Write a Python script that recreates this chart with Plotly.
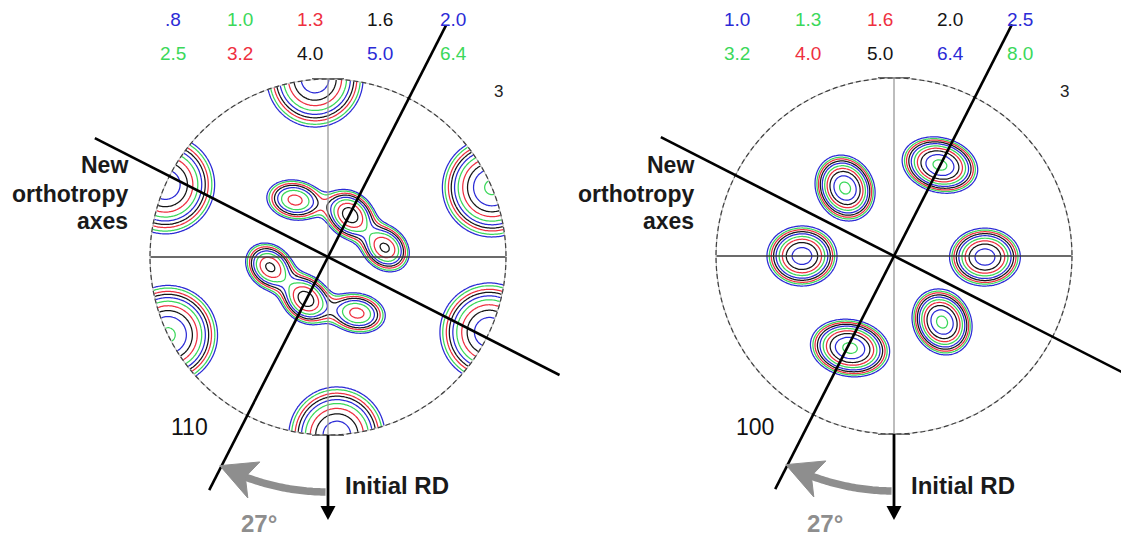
import numpy as np
import plotly.graph_objects as go

W, H = 1121, 539
R_PX = 178.0                      # pole-figure radius in pixels
FONT = "Liberation Sans, Arial, Helvetica, sans-serif"

# ---- contour levels (multiples of random) -------------------------------
LEVELS_110 = [0.8, 1.0, 1.3, 1.6, 2.0, 2.5, 3.2, 4.0, 5.0, 6.4]
LABELS_110 = [".8", "1.0", "1.3", "1.6", "2.0", "2.5", "3.2", "4.0", "5.0", "6.4"]
LEVELS_100 = [1.0, 1.3, 1.6, 2.0, 2.5, 3.2, 4.0, 5.0, 6.4, 8.0]
LABELS_100 = ["1.0", "1.3", "1.6", "2.0", "2.5", "3.2", "4.0", "5.0", "6.4", "8.0"]

BLUE, GREEN, RED, BLACK = "#2b2bd6", "#3bd85a", "#ee3040", "#151515"
LEVEL_COLORS = [BLUE, GREEN, RED, BLACK, BLUE, GREEN, RED, BLACK, BLUE, GREEN]

# ---- texture components of the {110} pole figure (unit-disc coords) -----
PK110_X = [-0.073, 0.050, -0.914, 0.921, -0.899, 0.906, -0.185, 0.124, 0.320, 0.163, -0.124, -0.326]
PK110_Y = [1.000, -1.000, 0.407, 0.391, -0.438, -0.423, 0.320, 0.236, 0.051, -0.315, -0.236, -0.056]
PK110_H = [5.9, 5.9, 6.0, 6.7, 6.7, 6.0, 3.5, 4.6, 4.2, 3.5, 4.6, 4.2]
PK110_SA = [0.135, 0.135, 0.138, 0.135, 0.135, 0.138, 0.093, 0.085, 0.082, 0.093, 0.085, 0.082]
PK110_SB = [0.135, 0.135, 0.138, 0.135, 0.135, 0.138, 0.065, 0.068, 0.066, 0.065, 0.068, 0.066]
PK110_ANG = [0, 0, 0, 0, 0, 0, -10, -43, -43, -10, -43, -43]

# ---- texture components of the {100} pole figure ------------------------
PK100_X = [-0.275, 0.258, -0.517, 0.511, 0.270, -0.247]
PK100_Y = [0.382, 0.511, 0.000, -0.006, -0.371, -0.517]
PK100_H = [8.6, 8.6, 7.5, 7.5, 8.6, 8.6]
PK100_SA = [0.092, 0.104, 0.098, 0.099, 0.092, 0.108]
PK100_SB = [0.078, 0.074, 0.084, 0.081, 0.078, 0.077]
PK100_ANG = [-62, -15, 0, 0, -62, -10]

ROT_DEG = 27.0                    # rotation of the new orthotropy axes

# panel centres in pixels and the pixel span each panel occupies
PANELS = [
    dict(cx=328, cy=257, x0=0, x1=560, xa="x", ya="y", name="110",
         levels=LEVELS_110, labels=LABELS_110,
         pk=(PK110_X, PK110_Y, PK110_H, PK110_SA, PK110_SB, PK110_ANG),
         leg_x=[173, 240, 310, 380, 453]),
    dict(cx=894, cy=256, x0=560, x1=W, xa="x2", ya="y2", name="100",
         levels=LEVELS_100, labels=LABELS_100,
         pk=(PK100_X, PK100_Y, PK100_H, PK100_SA, PK100_SB, PK100_ANG),
         leg_x=[737, 808, 880, 950, 1020]),
]

g = np.linspace(-1.03, 1.03, 261)
GX, GY = np.meshgrid(g, g)


def density(px, py, ph, sa, sb, ang):
    z = np.zeros_like(GX)
    for x0, y0, h, a, b, t in zip(px, py, ph, sa, sb, ang):
        t = np.deg2rad(t)
        dx, dy = GX - x0, GY - y0
        u = dx * np.cos(t) + dy * np.sin(t)
        v = -dx * np.sin(t) + dy * np.cos(t)
        z += h * np.exp(-(u ** 2 / (2 * a ** 2) + v ** 2 / (2 * b ** 2)))
    return z.astype(np.float32)


fig = go.Figure()
shapes, annotations = [], []
layout_axes = {}


def pxl(x, y):
    return dict(x=x / W, y=1 - y / H, xref="paper", yref="paper")


for i, p in enumerate(PANELS):
    cx, cy = p["cx"], p["cy"]
    xr = [(p["x0"] - cx) / R_PX, (p["x1"] - cx) / R_PX]
    yr = [(cy - H) / R_PX, cy / R_PX]
    sfx = "" if i == 0 else "2"
    layout_axes["xaxis" + sfx] = dict(domain=[p["x0"] / W, p["x1"] / W], range=xr,
                                      visible=False, fixedrange=True,
                                      anchor="y" + sfx)
    layout_axes["yaxis" + sfx] = dict(domain=[0, 1], range=yr, visible=False,
                                      fixedrange=True, anchor="x" + sfx)
    xa, ya = p["xa"], p["ya"]

    z = density(*p["pk"])
    for lv, col in zip(p["levels"], LEVEL_COLORS):
        fig.add_trace(go.Contour(
            x=g, y=g, z=z, autocontour=False,
            contours=dict(start=lv, end=lv, size=1.0, coloring="none"),
            line=dict(color=col, width=1.25, smoothing=1.0),
            showscale=False, hoverinfo="skip", xaxis=xa, yaxis=ya))

    # white mask outside the unit circle
    th = np.linspace(0, 2 * np.pi, 241)
    circ = " ".join(f"L{np.cos(t):.4f},{np.sin(t):.4f}" for t in th[1:])
    path = (f"M{xr[0]},{yr[0]} L{xr[0]},{yr[1]} L{xr[1]},{yr[1]} L{xr[1]},{yr[0]} Z "
            f"M1,0 {circ} Z")
    shapes.append(dict(type="path", path=path, xref=xa, yref=ya, layer="above",
                       fillcolor="white", line=dict(width=0)))

    # reference axes inside the circle
    shapes.append(dict(type="line", x0=-1, x1=1, y0=0, y1=0, xref=xa, yref=ya,
                       layer="above", line=dict(color="#3a3a3a", width=1.3)))
    shapes.append(dict(type="line", x0=0, x1=0, y0=-1, y1=1, xref=xa, yref=ya,
                       layer="above", line=dict(color="#9a9a9a", width=1.3)))
    for yy in (-1, 1):
        shapes.append(dict(type="line", x0=-0.09, x1=0.09, y0=yy, y1=yy, xref=xa,
                           yref=ya, layer="above", line=dict(color="#333", width=1.5)))

    # dashed outer circle
    shapes.append(dict(type="circle", x0=-1, x1=1, y0=-1, y1=1, xref=xa, yref=ya,
                       layer="above", line=dict(color="#c8c8c8", width=1.2)))
    shapes.append(dict(type="circle", x0=-1, x1=1, y0=-1, y1=1, xref=xa, yref=ya,
                       layer="above", line=dict(color="#404040", width=1.2, dash="5px,3px")))

    # new orthotropy axes, rotated by ROT_DEG
    r = np.deg2rad(ROT_DEG)
    d1 = np.array([np.sin(r), np.cos(r)])
    d2 = np.array([np.cos(r), -np.sin(r)])
    a1, b1 = -1.47 * d1, 1.46 * d1
    a2, b2 = -1.47 * d2, 1.46 * d2
    for a, b in ((a1, b1), (a2, b2)):
        shapes.append(dict(type="line", x0=a[0], y0=a[1], x1=b[0], y1=b[1], xref=xa,
                           yref=ya, layer="above", line=dict(color="black", width=2.6)))

    # initial rolling direction arrow
    tip = -(520 - cy) / R_PX
    head = 14 / R_PX
    shapes.append(dict(type="line", x0=0, x1=0, y0=-1, y1=tip + head * 0.8, xref=xa,
                       yref=ya, layer="above", line=dict(color="black", width=2.8)))
    hw = 7.5 / R_PX
    shapes.append(dict(type="path", xref=xa, yref=ya, layer="above",
                       path=f"M0,{tip} L{-hw},{tip + head} L{hw},{tip + head} Z",
                       fillcolor="black", line=dict(width=0)))

    # curved grey arrow showing the 27 degree rotation
    ra = 235 / R_PX
    ang = np.deg2rad(np.linspace(-90.6, -110.8, 40))
    arc = "M" + " L".join(f"{ra * np.cos(t):.4f},{ra * np.sin(t):.4f}" for t in ang)
    shapes.append(dict(type="path", path=arc, xref=xa, yref=ya, layer="above",
                       fillcolor="rgba(0,0,0,0)", line=dict(color="#8e8e8e", width=7.5)))
    t_tip = np.deg2rad(-90 - ROT_DEG - 0.4)
    t_base = np.deg2rad(-108.4)
    t_notch = np.deg2rad(-110.6)
    hw2 = 19 / R_PX
    pts = [(ra * np.cos(t_tip), ra * np.sin(t_tip)),
           ((ra + hw2) * np.cos(t_base), (ra + hw2) * np.sin(t_base)),
           (ra * np.cos(t_notch), ra * np.sin(t_notch)),
           ((ra - hw2) * np.cos(t_base), (ra - hw2) * np.sin(t_base))]
    hp = "M" + " L".join(f"{x:.4f},{y:.4f}" for x, y in pts) + " Z"
    shapes.append(dict(type="path", path=hp, xref=xa, yref=ya, layer="above",
                       fillcolor="#8e8e8e", line=dict(color="#8e8e8e", width=1)))

    # contour-level legend
    for k, (lab, col) in enumerate(zip(p["labels"], LEVEL_COLORS)):
        row, colm = divmod(k, 5)
        annotations.append(dict(**pxl(p["leg_x"][colm], 20 + 33 * row), text=lab,
                                showarrow=False, xanchor="center", yanchor="middle",
                                font=dict(family=FONT, size=19, color=col)))

    # pole labels
    annotations.append(dict(**pxl(cx + 170, 92), text="3", showarrow=False,
                            xanchor="center", yanchor="middle",
                            font=dict(family=FONT, size=17, color="#222")))
    annotations.append(dict(**pxl(cx - 139, 427), text=p["name"], showarrow=False,
                            xanchor="center", yanchor="middle",
                            font=dict(family=FONT, size=23, color="#111")))
    # new orthotropy axes label
    for txt, yy in (("New", 165), ("orthotropy", 194), ("axes", 221)):
        annotations.append(dict(**pxl(cx - 198, yy), text=f"<b>{txt}</b>",
                                showarrow=False, xanchor="right", yanchor="middle",
                                font=dict(family=FONT, size=23, color="#1a1a1a")))
    annotations.append(dict(**pxl(cx + 15, 485), text="<b>Initial RD</b>",
                            showarrow=False, xanchor="left", yanchor="middle",
                            font=dict(family=FONT, size=24, color="#1a1a1a")))
    annotations.append(dict(**pxl(cx - 69, 523), text="<b>27°</b>", showarrow=False,
                            xanchor="center", yanchor="middle",
                            font=dict(family=FONT, size=24, color="#8e8e8e")))

fig.update_layout(
    width=W, height=H, margin=dict(l=0, r=0, t=0, b=0),
    paper_bgcolor="white", plot_bgcolor="white", showlegend=False,
    shapes=shapes, annotations=annotations, **layout_axes)

fig.write_html("out.html")
